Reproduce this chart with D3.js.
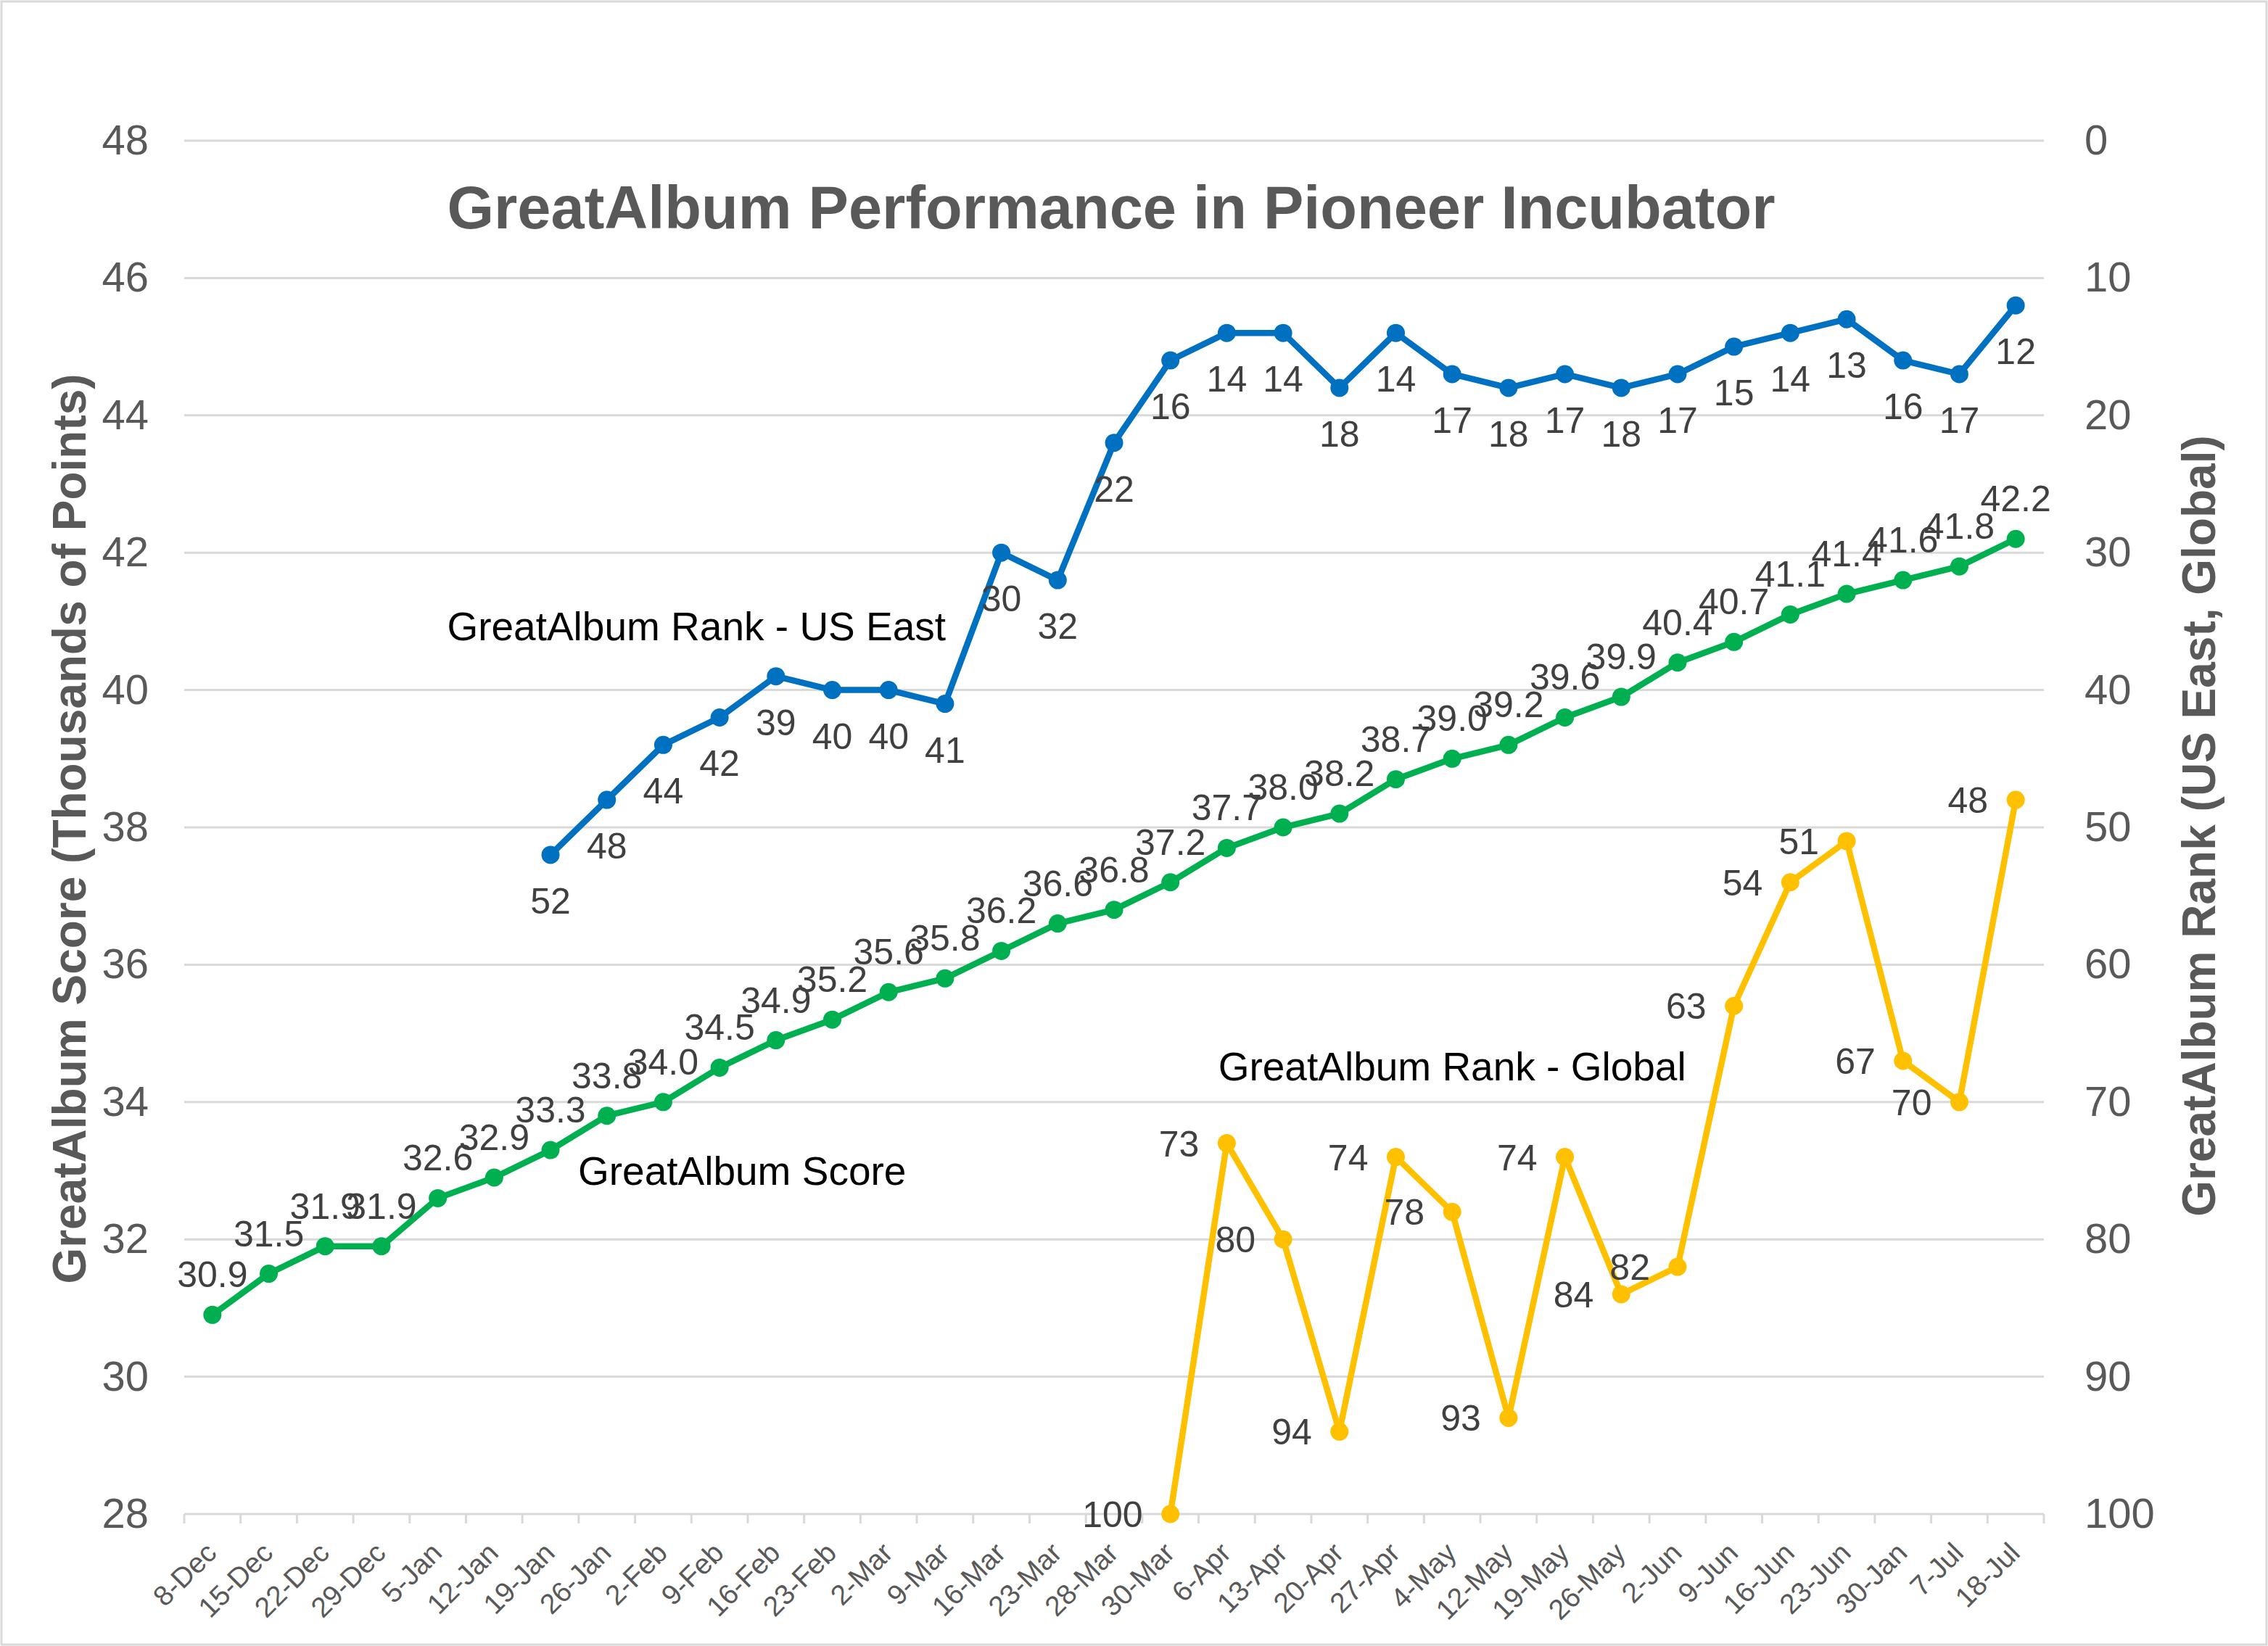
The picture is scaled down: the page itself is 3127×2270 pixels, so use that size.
<!DOCTYPE html>
<html>
<head>
    <title>GreatAlbum Performance</title>
    <script src="https://cdn.jsdelivr.net/npm/d3@7/dist/d3.min.js"></script>
    <style>
        body { margin: 0; background: #fff; }
        text { font-family: "Liberation Sans", Arial, sans-serif; }
    </style>
</head>
<body>
    <div id="chart"></div>

    <script>
        // categories (x axis)
        const categories = ["8-Dec","15-Dec","22-Dec","29-Dec","5-Jan","12-Jan","19-Jan","26-Jan","2-Feb","9-Feb",
            "16-Feb","23-Feb","2-Mar","9-Mar","16-Mar","23-Mar","28-Mar","30-Mar","6-Apr","13-Apr",
            "20-Apr","27-Apr","4-May","12-May","19-May","26-May","2-Jun","9-Jun","16-Jun","23-Jun",
            "30-Jan","7-Jul","18-Jul"];

        // score, thousands of points (left axis)
        const scoreValues = [30.9,31.5,31.9,31.9,32.6,32.9,33.3,33.8,34.0,34.5,
            34.9,35.2,35.6,35.8,36.2,36.6,36.8,37.2,37.7,38.0,
            38.2,38.7,39.0,39.2,39.6,39.9,40.4,40.7,41.1,41.4,
            41.6,41.8,42.2];

        // ranks (right axis, reversed)
        const usEastRank = [null,null,null,null,null,null,52,48,44,42,
            39,40,40,41,30,32,22,16,14,14,
            18,14,17,18,17,18,17,15,14,13,
            16,17,12];
        const globalRank = [null,null,null,null,null,null,null,null,null,null,
            null,null,null,null,null,null,null,100,73,80,
            94,74,78,93,74,84,82,63,54,51,
            67,70,48];

        const leftTicks = [28,30,32,34,36,38,40,42,44,46,48];
        const rightTicks = [0,10,20,30,40,50,60,70,80,90,100];

        // series name labels: text, category position, value on its axis
        const seriesNames = [
            { text: "GreatAlbum Rank - US East", pos: 8.59, val: 35.4, axis: "right" },
            { text: "GreatAlbum Score", pos: 9.4, val: 33.0, axis: "left" },
            { text: "GreatAlbum Rank - Global", pos: 22.0, val: 67.4, axis: "right" }
        ];

        const W = 3127, H = 2270;
        const plot = { left: 254, right: 2818, top: 194, bottom: 2088 };
        const grey = "#595959", labelCol = "#404040", gridCol = "#d9d9d9";

        const svg = d3.select("#chart").append("svg")
            .attr("width", W).attr("height", H);

        svg.append("rect")
            .attr("x", 2).attr("y", 2).attr("width", W - 4).attr("height", H - 4)
            .attr("fill", "#fff").attr("stroke", gridCol).attr("stroke-width", 3);

        const x = d3.scaleBand().domain(categories).range([plot.left, plot.right]).padding(0);
        const cx = c => x(c) + x.bandwidth() / 2;
        const yL = d3.scaleLinear().domain([28, 48]).range([plot.bottom, plot.top]);
        const yR = d3.scaleLinear().domain([0, 100]).range([plot.top, plot.bottom]);

        // gridlines
        svg.append("g").selectAll("line").data(leftTicks.slice(1)).enter().append("line")
            .attr("x1", plot.left).attr("x2", plot.right)
            .attr("y1", d => yL(d)).attr("y2", d => yL(d))
            .attr("stroke", gridCol).attr("stroke-width", 3);

        // left axis
        const axL = svg.append("g").attr("transform", `translate(${plot.left - 49},0)`)
            .call(d3.axisLeft(yL).tickValues(leftTicks).tickSize(0).tickPadding(0));
        axL.select(".domain").remove();
        axL.selectAll("text").attr("font-size", 58).attr("fill", grey)
            .style("font-family", "'Liberation Sans', Arial, sans-serif");

        // right axis
        const axR = svg.append("g").attr("transform", `translate(${plot.right + 56},0)`)
            .call(d3.axisRight(yR).tickValues(rightTicks).tickSize(0).tickPadding(0));
        axR.select(".domain").remove();
        axR.selectAll("text").attr("font-size", 58).attr("fill", grey)
            .style("font-family", "'Liberation Sans', Arial, sans-serif");

        // bottom axis line + tick marks at band edges
        const edges = categories.map(c => x(c)).concat([plot.right]);
        svg.append("line")
            .attr("x1", plot.left).attr("x2", plot.right)
            .attr("y1", plot.bottom).attr("y2", plot.bottom)
            .attr("stroke", gridCol).attr("stroke-width", 3);
        svg.append("g").selectAll("line").data(edges).enter().append("line")
            .attr("x1", d => d).attr("x2", d => d)
            .attr("y1", plot.bottom).attr("y2", plot.bottom + 13)
            .attr("stroke", gridCol).attr("stroke-width", 3);

        svg.append("g").selectAll("text").data(categories).enter().append("text")
            .attr("transform", d => `translate(${cx(d) + 8},${plot.bottom + 56}) rotate(-45)`)
            .attr("text-anchor", "end")
            .attr("font-size", 39).attr("fill", grey)
            .text(d => d);

        // series drawing
        function drawSeries(values, yScale, color, labelFn, fmt) {
            const pts = values.map((v, i) => ({ c: categories[i], v })).filter(d => d.v != null);
            const line = d3.line().x(d => cx(d.c)).y(d => yScale(d.v));
            svg.append("path").datum(pts)
                .attr("d", line).attr("fill", "none")
                .attr("stroke", color).attr("stroke-width", 8.5)
                .attr("stroke-linejoin", "round");
            svg.append("g").selectAll("circle").data(pts).enter().append("circle")
                .attr("cx", d => cx(d.c)).attr("cy", d => yScale(d.v))
                .attr("r", 12.5).attr("fill", color);
            const g = svg.append("g").selectAll("text").data(pts).enter().append("text")
                .attr("font-size", 50).attr("fill", labelCol)
                .text(d => fmt(d.v));
            labelFn(g, yScale);
        }

        drawSeries(scoreValues, yL, "#00B050", (g, s) => g
            .attr("x", d => cx(d.c)).attr("y", d => s(d.v) - 38)
            .attr("text-anchor", "middle"), d3.format(".1f"));

        drawSeries(usEastRank, yR, "#0070C0", (g, s) => g
            .attr("x", d => cx(d.c)).attr("y", d => s(d.v) + 81)
            .attr("text-anchor", "middle"), d => d);

        drawSeries(globalRank, yR, "#FFC000", (g, s) => g
            .attr("x", d => cx(d.c) - 38).attr("y", d => s(d.v) + 18)
            .attr("text-anchor", "end"), d => d);

        // series name labels
        const step = x.step();
        svg.append("g").selectAll("text").data(seriesNames).enter().append("text")
            .attr("x", d => plot.left + step * (d.pos + 0.5))
            .attr("y", d => (d.axis === "left" ? yL(d.val) : yR(d.val)) + 19)
            .attr("text-anchor", "middle")
            .attr("font-size", 55).attr("fill", "#000")
            .text(d => d.text);

        // title
        svg.append("text")
            .attr("x", 1532).attr("y", 315)
            .attr("text-anchor", "middle")
            .attr("font-size", 83).attr("font-weight", "bold").attr("fill", grey)
            .text("GreatAlbum Performance in Pioneer Incubator");

        // axis titles
        svg.append("text")
            .attr("transform", `translate(118,${(plot.top + plot.bottom) / 2 + 2}) rotate(-90)`)
            .attr("text-anchor", "middle")
            .attr("font-size", 64).attr("font-weight", "bold").attr("fill", grey)
            .text("GreatAlbum Score (Thousands of Points)");

        svg.append("text")
            .attr("transform", `translate(3054,${(plot.top + plot.bottom) / 2 - 2}) rotate(-90)`)
            .attr("text-anchor", "middle")
            .attr("font-size", 64).attr("font-weight", "bold").attr("fill", grey)
            .text("GreatAlbum Rank (US East, Global)");
    </script>
</body>
</html>
